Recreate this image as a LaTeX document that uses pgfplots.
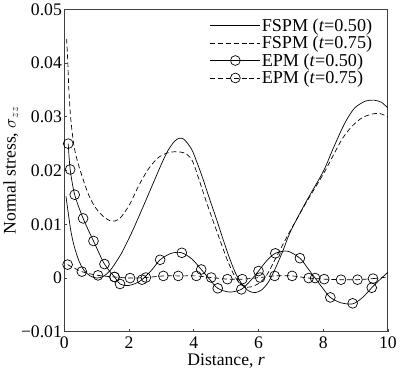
\documentclass[border=0pt]{standalone}
\usepackage{pgfplots}
\pgfplotsset{compat=1.18}
\usepackage{fontspec}
\setmainfont{Liberation Serif}
\newcommand{\fs}{\fontsize{18}{21}\selectfont}
\newcommand{\fl}{\fontsize{18.5}{21}\selectfont}
\begin{document}
\begin{tikzpicture}
\begin{axis}[
  scale only axis,
  width=330pt, height=329pt,
  xmin=0, xmax=10, ymin=-0.01, ymax=0.05,
  xtick={0,2,4,6,8,10},
  xticklabels={0,2,4,6,8,10},
  ytick={-0.01,0,0.01,0.02,0.03,0.04,0.05},
  yticklabels={−0.01,0,0.01,0.02,0.03,0.04,0.05},
  scaled y ticks=false,
  tick align=inside,
  xtick pos=bottom, ytick pos=left,
  major tick length=3pt,
  axis line style={line width=1pt, black!75},
  tick style={line width=0.8pt, black!75},
  tick label style={font=\fs},
  yticklabel style={xshift=1pt},
  xticklabel style={yshift=-2pt},
  label style={font=\fs},
  xlabel={Distance, \textit{r}},
  ylabel={Normal stress, $\sigma_{zz}$},
  xlabel style={yshift=2pt},
  ylabel style={yshift=-4pt},
  legend style={draw=none, fill=none, font=\fl, at={(0.955,0.975)}, anchor=north east,
    row sep=1.5pt, inner sep=0pt, nodes={inner sep=1pt}},
  legend cell align=left,
  legend image code/.code={\draw[mark repeat=2,mark phase=2,#1] plot coordinates {(0cm,0cm) (0.9cm,0cm) (1.8cm,0cm)};},
  every axis plot/.append style={line width=0.7pt, black},
]
% FSPM t=0.50
\addplot[smooth, forget plot] coordinates {
(0.05,0.0152) (0.1,0.0130) (0.2,0.0088) (0.3,0.0060) (0.45,0.0032) (0.6,0.0015)
(0.8,0.0004) (1.0,0.0000) (1.2,0.0003) (1.4,0.0013) (1.6,0.0030) (1.8,0.0050)
(2.1,0.0087) (2.4,0.0128) (2.7,0.0170) (3.0,0.0212) (3.2,0.0237) (3.4,0.0254)
(3.55,0.0260) (3.7,0.0258) (3.93,0.0240) (4.1,0.0215) (4.28,0.0185) (4.5,0.0145)
(4.7,0.0110) (4.9,0.0073) (5.1,0.0038) (5.3,0.0008) (5.5,-0.0012) (5.7,-0.0024)
(5.9,-0.0027) (6.1,-0.0022) (6.3,-0.0008) (6.5,0.0015) (6.75,0.0050) (7.0,0.0088)
(7.5,0.0145) (8.0,0.0198) (8.3,0.0240) (8.6,0.0280) (8.8,0.0302) (9.0,0.0318)
(9.3,0.0329) (9.55,0.0331) (9.8,0.0327) (10.0,0.0316)
};
% FSPM t=0.75
\addplot[smooth, dash pattern=on 5pt off 3pt, forget plot] coordinates {
(0.07,0.0445) (0.1,0.0410) (0.14,0.0350) (0.2,0.0295) (0.3,0.0245) (0.43,0.0212)
(0.6,0.0180) (0.75,0.0155) (0.95,0.0132) (1.2,0.0115) (1.45,0.0106) (1.7,0.0110)
(2.0,0.0135) (2.3,0.0172) (2.6,0.0203) (2.9,0.0224) (3.2,0.0233) (3.45,0.0235)
(3.7,0.0233) (3.88,0.0225) (4.0,0.0212) (4.18,0.0180) (4.4,0.0140) (4.64,0.0099)
(4.85,0.0064) (5.04,0.0033) (5.25,0.0005) (5.45,-0.0012) (5.65,-0.0017) (5.85,-0.0015)
(6.05,-0.0008) (6.25,0.0005) (6.5,0.0033) (6.75,0.0062) (7.0,0.0090) (7.5,0.0143)
(8.0,0.0193) (8.3,0.0227) (8.6,0.0260) (8.9,0.0283) (9.2,0.0298) (9.5,0.0305)
(9.75,0.0306) (10.0,0.0300)
};
% EPM t=0.50 line
\addplot[smooth, forget plot] coordinates {
(0.12,0.0250) (0.18,0.0202) (0.32,0.0155) (0.58,0.0111) (0.9,0.0069) (1.24,0.0026)
(1.55,0.0002) (1.72,-0.0011) (1.95,-0.0014) (2.2,-0.0010) (2.4,-0.0003) (2.7,0.0015)
(2.96,0.0034) (3.3,0.0046) (3.63,0.0047) (3.95,0.0035) (4.23,0.0016) (4.5,-0.0003)
(4.74,-0.0019) (5.1,-0.0026) (5.47,-0.0021) (5.75,-0.0005) (6.0,0.0013) (6.25,0.0032)
(6.52,0.0046) (6.9,0.0050) (7.28,0.0037) (7.5,0.0020) (7.75,0.0000) (8.0,-0.0020)
(8.22,-0.0036) (8.55,-0.0046) (8.91,-0.0048) (9.2,-0.0037) (9.5,-0.0018) (9.75,-0.0003)
(10.0,0.0011)
};
% EPM t=0.50 markers
\addplot[only marks, mark=o, mark size=5pt, forget plot] coordinates {
(0.12,0.0250) (0.18,0.0202) (0.32,0.0155) (0.58,0.0111) (0.9,0.0069) (1.24,0.0026)
(1.55,0.0002) (1.72,-0.0011) (2.4,-0.0003) (2.96,0.0034) (3.63,0.0047) (4.23,0.0016)
(4.74,-0.0019) (5.47,-0.0021) (6.0,0.0013) (6.52,0.0046) (7.28,0.0037) (7.75,0.0000)
(8.22,-0.0036) (8.91,-0.0047) (9.5,-0.0018)
};
% EPM t=0.75
\addplot[smooth, dash pattern=on 5pt off 3pt, mark=o, mark size=5pt, mark options={solid}, forget plot] coordinates {
(0.1,0.0025) (0.54,0.0012) (1.04,0.0005) (1.55,0.0002) (2.03,0.0000) (2.52,0.0001)
(3.06,0.0004) (3.52,0.0004) (4.08,0.0004) (4.54,0.0001) (5.04,-0.0002) (5.5,-0.0002)
(6.05,0.0001) (6.5,0.0004) (7.04,0.0004) (7.55,0.0000) (8.03,-0.0002) (8.55,-0.0003)
(9.06,-0.0003) (9.54,-0.0001)
};
\addplot[dash pattern=on 5pt off 3pt, forget plot] coordinates {(9.54,-0.0001) (10.0,0.0002)};
\addlegendimage{line width=0.7pt, black}
\addlegendentry{FSPM (\textit{t}=0.50)}
\addlegendimage{line width=0.7pt, black, dash pattern=on 5pt off 3pt}
\addlegendentry{FSPM (\textit{t}=0.75)}
\addlegendimage{line width=0.7pt, black, mark=o, mark size=5pt}
\addlegendentry{EPM (\textit{t}=0.50)}
\addlegendimage{line width=0.7pt, black, dash pattern=on 5pt off 3pt, mark=o, mark size=5pt, mark options={solid}}
\addlegendentry{EPM (\textit{t}=0.75)}
\end{axis}
\end{tikzpicture}
\end{document}
